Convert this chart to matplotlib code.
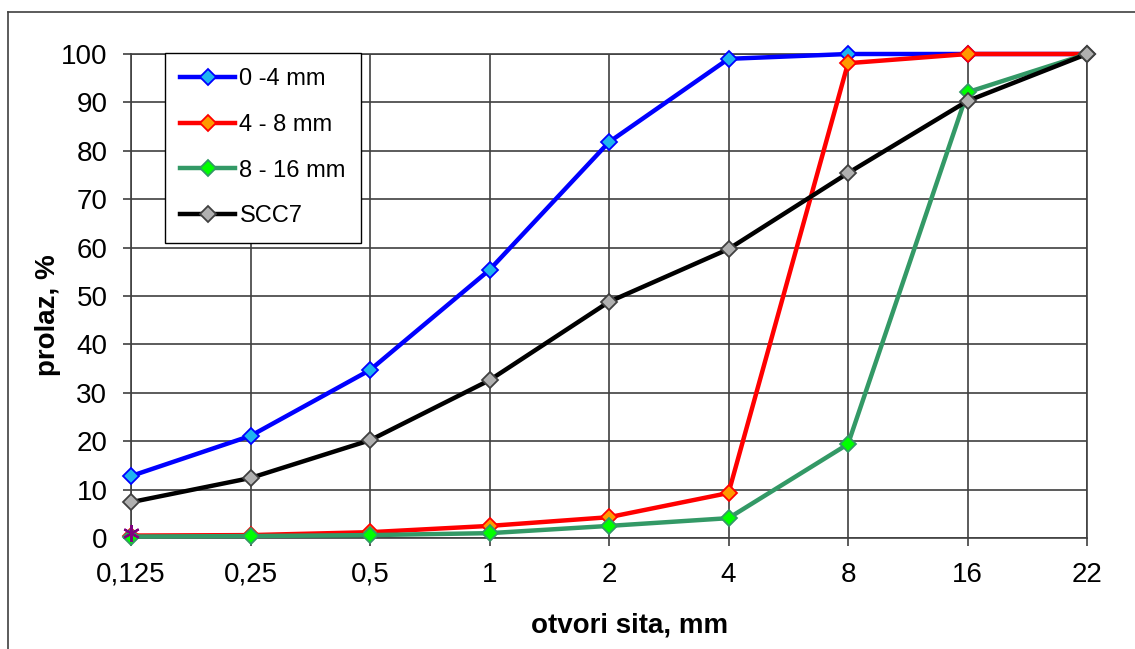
import matplotlib
matplotlib.use("Agg")
import matplotlib.pyplot as plt
from matplotlib.lines import Line2D

plt.rcParams["font.family"] = ["Liberation Sans", "DejaVu Sans"]

sieves = ["0,125", "0,25", "0,5", "1", "2", "4", "8", "16", "22"]

frac_0_4 = [12.8, 21.1, 34.7, 55.4, 81.8, 99.0, 100.0, 100.0, 100.0]
frac_4_8 = [0.5, 0.6, 1.2, 2.5, 4.3, 9.3, 98.1, 100.0, 100.0]
frac_8_16 = [0.3, 0.4, 0.6, 1.0, 2.5, 4.1, 19.4, 92.1, 100.0]
scc7 = [7.4, 12.4, 20.2, 32.6, 48.8, 59.7, 75.4, 90.3, 100.0]
extra_point = [1.0]

series = [
    ("0 -4 mm", frac_0_4, "#0000FF", "#1EB4F0", "#0000FF"),
    ("4 - 8 mm", frac_4_8, "#FF0000", "#FF9900", "#FF0000"),
    ("8 - 16 mm", frac_8_16, "#339966", "#00FF00", "#339966"),
    ("SCC7", scc7, "#000000", "#B0B0B0", "#404040"),
]

fig = plt.figure(figsize=(11.35, 6.49), dpi=100)
ax = fig.add_axes([131 / 1135, 1 - 538 / 649, 956 / 1135, 484 / 649])

x = list(range(len(sieves)))
for label, vals, lc, fc, ec in series:
    ax.plot(
        x, vals,
        color=lc,
        linewidth=3.2,
        marker="D",
        markersize=8,
        markerfacecolor=fc,
        markeredgecolor=ec,
        markeredgewidth=1.3,
        label=label,
        zorder=3,
        clip_on=False,
    )

# single point shown with star marker at the first sieve
ax.plot(
    x[:1], extra_point,
    linestyle="none",
    marker=(6, 2, 0),
    markersize=12,
    markeredgecolor="#800080",
    markeredgewidth=1.6,
    zorder=4,
    clip_on=False,
)

ax.set_xlim(0, len(sieves) - 1)
ax.set_ylim(0, 100)
ax.set_xticks(x)
ax.set_xticklabels(sieves)
ax.set_yticks(range(0, 101, 10))

ax.grid(True, color="#404040", linewidth=1.2)
ax.set_axisbelow(True)
for side in ["left", "bottom", "top", "right"]:
    ax.spines[side].set_color("#404040")
    ax.spines[side].set_linewidth(1.2)

ax.tick_params(axis="both", direction="out", length=6, width=1.2,
               color="#404040", labelsize=20, pad=11)

ax.set_xlabel("otvori sita, mm", fontsize=20, fontweight="bold")
ax.set_ylabel("prolaz, %", fontsize=20, fontweight="bold")
ax.xaxis.set_label_coords(0.522, -0.153)
ax.yaxis.set_label_coords(-0.073, 0.461)

leg = ax.legend(
    loc="upper left",
    bbox_to_anchor=(0.0356, 1.002),
    borderaxespad=0,
    fontsize=17,
    frameon=True,
    fancybox=False,
    framealpha=1,
    edgecolor="#000000",
    handlelength=2.3,
    handletextpad=0.2,
    labelspacing=1.0,
    borderpad=0.65,
)
leg.get_frame().set_linewidth(1.0)

# outer chart border
fig.add_artist(Line2D([8 / 1135, 8 / 1135], [0, 1 - 12 / 649],
                      transform=fig.transFigure, color="#404040", linewidth=1.2))
fig.add_artist(Line2D([8 / 1135, 1], [1 - 12 / 649, 1 - 12 / 649],
                      transform=fig.transFigure, color="#404040", linewidth=1.2))

fig.savefig("out.png", dpi=100)
